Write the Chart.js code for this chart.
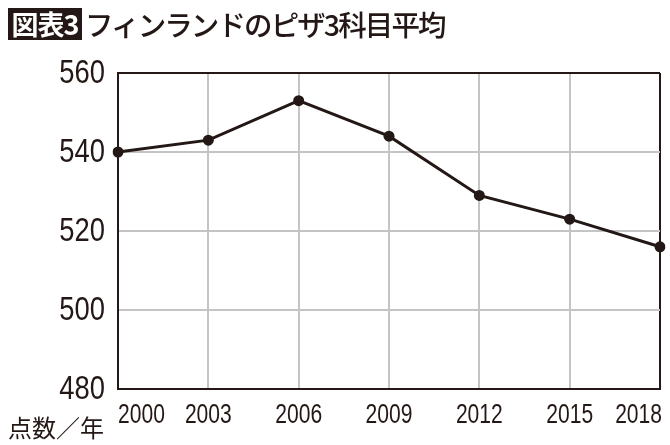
<!DOCTYPE html>
<html>
<head>
<meta charset="utf-8">
<script src="https://cdn.jsdelivr.net/npm/chart.js@4/dist/chart.umd.min.js"></script>
<style>
  html, body { margin: 0; padding: 0; background: #fff; }
  #wrap { position: relative; width: 670px; height: 445px; }
  #chart { position: absolute; left: 0; top: 0; }
  .jp { font-family: "Noto Sans CJK JP", sans-serif; color: #231815; position: absolute; white-space: nowrap; }
  #badge { left: 8px; top: 8px; width: 74px; height: 32px; background: #231815; color: #fff; font-weight: bold; font-size: 27px; line-height: 32px; text-align: center; letter-spacing: -1px; }
  #title { left: 85px; top: 5px; font-size: 28.5px; line-height: 38px; letter-spacing: -1.9px; font-weight: 500; }
  #unit { left: 8px; top: 412px; font-size: 24px; line-height: 30px; }
</style>
</head>
<body>
<div id="wrap">
  <canvas id="chart" width="670" height="445"></canvas>
  <div class="jp" id="badge">図表3</div>
  <div class="jp" id="title">フィンランドのピザ3科目平均</div>
  <div class="jp" id="unit">点数／年</div>
</div>
<script>
const years = ['2000', '2003', '2006', '2009', '2012', '2015', '2018'];
const scores = [540, 543, 553, 544, 529, 523, 516];
const yMin = 480;
const yMax = 560;
const yStep = 20;

const ink = '#231815';
const gridGray = '#c4c4c4';
const numFont = '"Liberation Sans", Arial, sans-serif';

// tick labels in the picture are a condensed sans, so draw them squeezed
const condensedLabels = {
  id: 'condensedLabels',
  afterDraw(chart) {
    const { ctx, scales: { x, y } } = chart;
    ctx.save();
    ctx.fillStyle = ink;

    ctx.font = '33px ' + numFont;
    ctx.textAlign = 'right';
    ctx.textBaseline = 'middle';
    y.ticks.forEach((t, i) => {
      ctx.save();
      ctx.translate(y.right - 13, y.getPixelForTick(i) + 1);
      ctx.scale(0.83, 1);
      ctx.fillText(t.label, 0, 0);
      ctx.restore();
    });

    ctx.font = '27px ' + numFont;
    ctx.textBaseline = 'top';
    x.ticks.forEach((t, i) => {
      let px = x.getPixelForTick(i);
      if (i === 0) { ctx.textAlign = 'left'; px = x.left; }
      else if (i === x.ticks.length - 1) { ctx.textAlign = 'right'; px = x.right + 2; }
      else ctx.textAlign = 'center';
      ctx.save();
      ctx.translate(px, x.top + 13);
      ctx.scale(0.78, 1);
      ctx.fillText(t.label, 0, 0);
      ctx.restore();
    });
    ctx.restore();
  },
};

new Chart(document.getElementById('chart'), {
  type: 'line',
  data: {
    labels: years,
    datasets: [
      {
        data: scores,
        borderColor: ink,
        backgroundColor: ink,
        borderWidth: 3,
        pointRadius: 5.5,
        pointBackgroundColor: ink,
        pointBorderWidth: 0,
        tension: 0,
      },
    ],
  },
  options: {
    responsive: false,
    animation: false,
    layout: { padding: { top: 73, right: 10, left: 0, bottom: 0 } },
    plugins: { legend: { display: false }, tooltip: { enabled: false } },
    scales: {
      x: {
        offset: false,
        afterFit: (scale) => { scale.height = 56; },
        border: { display: true, color: ink, width: 2 },
        grid: {
          drawTicks: false,
          lineWidth: 2,
          color: (ctx) => (ctx.index === years.length - 1 ? ink : gridGray),
        },
        ticks: { display: false, autoSkip: false },
      },
      y: {
        min: yMin,
        max: yMax,
        afterFit: (scale) => { scale.width = 118; },
        border: { display: true, color: ink, width: 2 },
        grid: {
          drawTicks: false,
          lineWidth: 2,
          color: (ctx) => (ctx.tick && ctx.tick.value === yMax ? ink : gridGray),
        },
        ticks: { display: false, stepSize: yStep },
      },
    },
  },
  plugins: [condensedLabels],
});
</script>
</body>
</html>
